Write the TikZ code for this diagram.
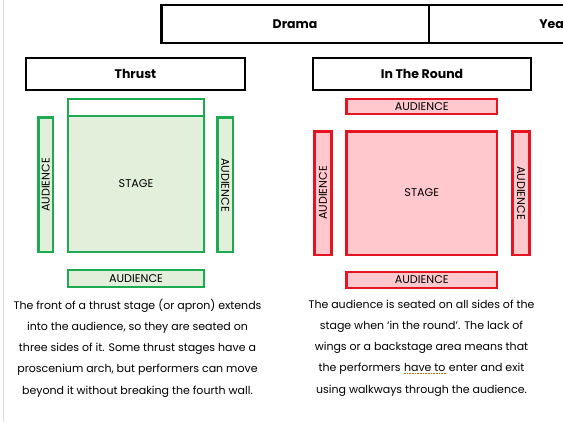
\documentclass[tikz,border=0pt]{standalone}
\usepackage{fontspec}
\setmainfont{Poppins}
\definecolor{thrustgreen}{RGB}{30,170,80}
\definecolor{thrustfill}{RGB}{226,239,218}
\definecolor{roundred}{RGB}{228,20,32}
\definecolor{roundfill}{RGB}{255,200,204}
\newcommand{\grammarmark}[1]{\tikz[baseline=(gm.base)]{\node (gm) [inner sep=0pt] {#1};
   \draw [orange!80!black, densely dotted, line width=0.6pt] ([yshift=-1.6pt]gm.base west) -- ([yshift=-1.6pt]gm.base east);}}
\tikzset{
  headbox/.style={draw, line width=2.6pt, inner sep=0pt, font=\fontsize{12.5}{14}\selectfont\bfseries},
  greenbox/.style={draw=thrustgreen, fill=thrustfill, line width=2.6pt},
  redbox/.style={draw=roundred, fill=roundfill, line width=2.6pt},
  seattext/.style={font=\fontsize{11.2}{12}\selectfont},
  blurb/.style={align=center, font=\fontsize{11}{21.25}\selectfont}
}
\begin{document}
\begin{tikzpicture}[x=1pt, y=-1pt]
   \useasboundingbox (0,0) rectangle (563,422);
   \clip (0,0) rectangle (563,422);
   \fill [white] (0,0) rectangle (563,422);
	\draw [black!12, line width=1pt] (3,0) -- (3,422);
   % header
   \draw [headbox] (161.5,5) rectangle (429,43);
   \draw [headbox] (429,5) rectangle (580,43);
   \node (drama) [headbox, draw=none] at (295,24) {Drama};
   \node (year) [headbox, draw=none, anchor=west] at (538,24) {Year};
   \draw [headbox] (26,58) rectangle (245,90);
   \node (thrust) [headbox, draw=none] at (135.5,74) {Thrust};
   \draw [headbox] (313,58) rectangle (531,90);
   \node (round) [headbox, draw=none] at (422,74) {In The Round};
   % thrust stage
   \draw [greenbox, fill=white] (68,99) rectangle (204,116);
   \draw [greenbox] (68,116) rectangle (204,252);
   \node (tstage) [seattext] at (136,184) {STAGE};
   \draw [greenbox] (38.5,117.5) rectangle (53,252);
   \node (tleft) [seattext, rotate=90] at (45.75,185) {AUDIENCE};
   \draw [greenbox] (217.5,117.5) rectangle (233,252);
   \node (tright) [seattext, rotate=-90] at (225.25,185) {AUDIENCE};
   \draw [greenbox] (68,270) rectangle (204,287);
   \node (tfront) [seattext] at (136,278.5) {AUDIENCE};
   % in the round
   \draw [redbox] (346.5,99) rectangle (497,114);
   \node (rtop) [seattext] at (421.75,106.5) {AUDIENCE};
   \draw [redbox] (346.5,131.5) rectangle (497,255);
   \node (rstage) [seattext] at (421.75,193) {STAGE};
   \draw [redbox] (314.5,131.5) rectangle (331.5,255);
   \node (rleft) [seattext, rotate=90] at (323,193) {AUDIENCE};
   \draw [redbox] (512.5,131.5) rectangle (529.5,255);
   \node (rright) [seattext, rotate=-90] at (521,193) {AUDIENCE};
   \draw [redbox] (346.5,272) rectangle (497,288);
   \node (rbottom) [seattext] at (421.75,280) {AUDIENCE};
   % descriptions
   \node (tnote) [blurb] at (137.5,348) {The front of a thrust stage (or apron) extends\\
      into the audience, so they are seated on\\
      three sides of it. Some thrust stages have a\\
      proscenium arch, but performers can move\\
      beyond it without breaking the fourth wall.};
   \node (rnote) [blurb] at (421.5,348) {The audience is seated on all sides of the\\
      stage when `in the round'. The lack of\\
      wings or a backstage area means that\\
      the performers \grammarmark{have to} enter and exit\\
      using walkways through the audience.};
\end{tikzpicture}
\end{document}
